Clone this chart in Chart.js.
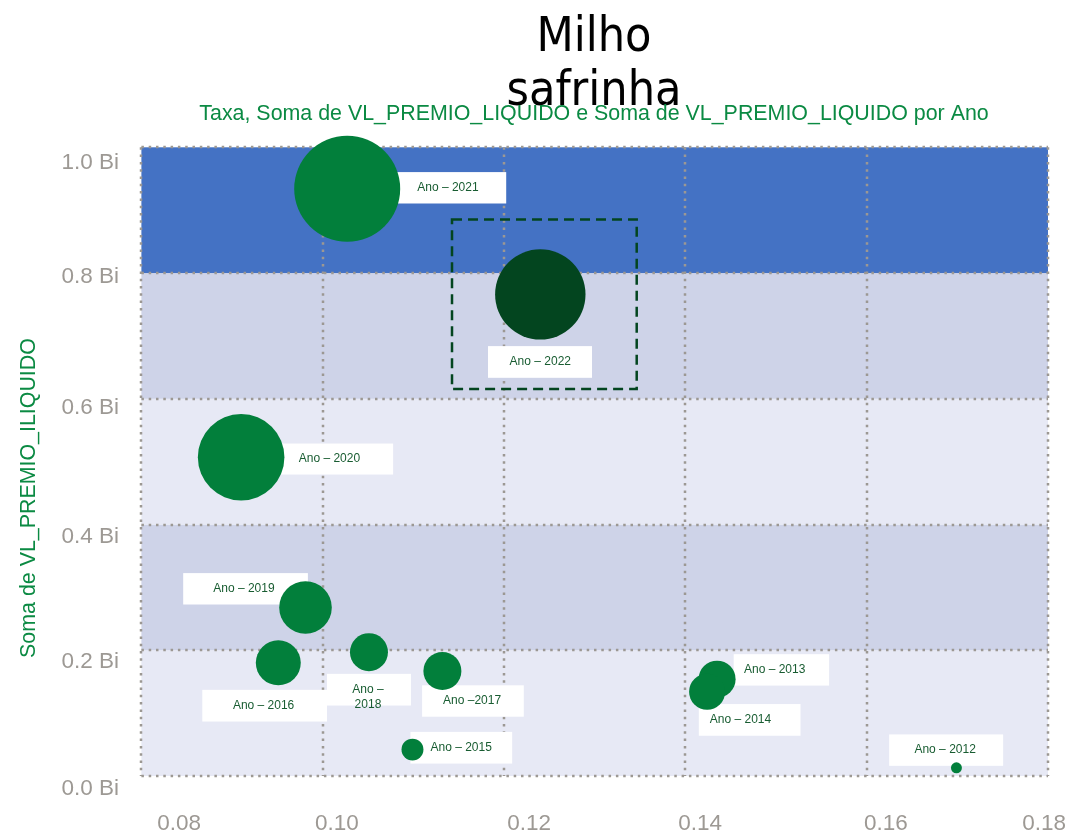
<!DOCTYPE html>
<html>
<head>
<meta charset="utf-8">
<script src="https://cdn.jsdelivr.net/npm/chart.js@4/dist/chart.umd.min.js"></script>
<style>
  html, body { margin: 0; padding: 0; background: #fff; }
  #wrap { width: 1070px; height: 835px; }
</style>
</head>
<body>
<div id="wrap"><canvas id="chart" width="1070" height="835"></canvas></div>
<script>
/* ---------- data ---------- */
const years   = [2012, 2013, 2014, 2015, 2016, 2017, 2018, 2019, 2020, 2021, 2022];
const taxa    = [0.1699, 0.1435, 0.1424, 0.1099, 0.0951, 0.1132, 0.1051, 0.0981, 0.0910, 0.1027, 0.1240];
const premio  = [0.013, 0.154, 0.134, 0.042, 0.180, 0.167, 0.197, 0.268, 0.507, 0.934, 0.766]; // Bi
const sizeVal = [0.010, 0.114, 0.108, 0.040, 0.168, 0.120, 0.120, 0.230, 0.623, 0.934, 0.679]; // Bi
const labels  = ['Ano – 2012', 'Ano – 2013', 'Ano – 2014', 'Ano – 2015', 'Ano – 2016', 'Ano –2017',
                 ['Ano –', '2018'], 'Ano – 2019', 'Ano – 2020', 'Ano – 2021', 'Ano – 2022'];
const xTicks  = [0.08, 0.10, 0.12, 0.14, 0.16, 0.18];
const yTicks  = [0, 0.2, 0.4, 0.6, 0.8, 1.0];
const yTickLabels = ['0.0 Bi', '0.2 Bi', '0.4 Bi', '0.6 Bi', '0.8 Bi', '1.0 Bi'];
const highlightYear = 2022;

/* ---------- look ---------- */
const GREEN = '#027f3b', DARK = '#03451f', TXT_GREEN = '#0b8a43', LBL = '#185c31', GREY = '#9d9994';
const bandColors = ['#e7e9f5', '#ced3e8', '#e7e9f5', '#ced3e8', '#4472c4'];
// label box offsets from bubble centre: [bx, by, bw, bh, tx, ty]
const labelBox = [
  [-67.3, -33.4, 114, 31.4, -11.3, -18],
  [16.6, -25, 95.4, 31.4, 57.6, -9.6],
  [-8.3, 12.3, 101.7, 31.7, 33.4, 28.3],
  [-2, -17.7, 101.7, 31.7, 48.7, -2],
  [-76, 27, 124.7, 31.7, -14.7, 42.7],
  [-20.3, 14.3, 101.7, 31.4, 29.7, 29.7],
  [-42, 21.7, 84, 31.7, -1, 37.4],
  [-122.3, -34.4, 124.7, 31.4, -61.6, -19],
  [25.3, -13.7, 126.7, 31, 88.3, 1.3],
  [45, -16.7, 114, 31.4, 100.7, -1.3],
  [-52.3, 51.7, 104, 31.7, 0, 67.4],
];
const xNudge = [37.8, 14.1, 25.2, 14.7, 19.2, -3.8];
const yNudge = [12.3, 11.4, 12.2, 9.5, 3.7, 15];
const R_SCALE = 54.84;

function dotted(ctx, x1, y1, x2, y2){
  ctx.beginPath(); ctx.moveTo(x1, y1); ctx.lineTo(x2, y2); ctx.stroke();
}

const decor = {
  id: 'decor',
  beforeDatasetsDraw(chart){
    const {ctx, chartArea:a, scales:{x, y}} = chart;
    ctx.save();
    // bands between y ticks
    for (let i = 0; i < yTicks.length - 1; i++){
      const top = y.getPixelForValue(yTicks[i+1]), bot = y.getPixelForValue(yTicks[i]);
      ctx.fillStyle = bandColors[i];
      ctx.fillRect(a.left, top, a.right - a.left, bot - top);
    }
    // dotted grid
    ctx.strokeStyle = '#9c9893'; ctx.lineWidth = 2.5; ctx.setLineDash([2.5, 4.8]);
    yTicks.forEach(v => { const p = Math.round(y.getPixelForValue(v)); dotted(ctx, a.left, p, a.right, p); });
    xTicks.forEach(v => { const p = Math.round(x.getPixelForValue(v)); dotted(ctx, p, a.top, p, a.bottom); });
    ctx.setLineDash([]);
    // label boxes + text
    ctx.font = '12px "Liberation Sans", Arial, sans-serif';
    ctx.textAlign = 'center'; ctx.textBaseline = 'middle';
    years.forEach((yr, i) => {
      const cx = x.getPixelForValue(taxa[i]), cy = y.getPixelForValue(premio[i]);
      const [bx, by, bw, bh, tx, ty] = labelBox[i];
      ctx.fillStyle = '#fff';
      ctx.fillRect(cx + bx, cy + by, bw, bh);
      ctx.fillStyle = LBL;
      const t = labels[i];
      if (Array.isArray(t)) t.forEach((s, k) => ctx.fillText(s, cx + tx, cy + ty + k * 15.6));
      else ctx.fillText(t, cx + tx, cy + ty);
    });
    ctx.restore();
  },
  afterDatasetsDraw(chart){
    const {ctx, scales:{x, y}} = chart;
    const i = years.indexOf(highlightYear);
    const cx = x.getPixelForValue(taxa[i]), cy = y.getPixelForValue(premio[i]);
    ctx.save();
    ctx.strokeStyle = DARK; ctx.lineWidth = 2.5; ctx.setLineDash([10, 6]);
    ctx.strokeRect(cx - 88.3, cy - 75, 184.7, 169.7);
    ctx.restore();
  },
  afterDraw(chart){
    const {ctx, scales:{x, y}} = chart;
    ctx.save();
    // tick labels
    ctx.fillStyle = GREY; ctx.font = '22.5px "Liberation Sans", Arial, sans-serif';
    ctx.textAlign = 'center'; ctx.textBaseline = 'alphabetic';
    xTicks.forEach((v, i) => ctx.fillText(v.toFixed(2), x.getPixelForValue(v) + xNudge[i], 830));
    ctx.textAlign = 'right'; ctx.textBaseline = 'middle';
    yTicks.forEach((v, i) => ctx.fillText(yTickLabels[i], 119, y.getPixelForValue(v) + yNudge[i]));
    // title
    ctx.fillStyle = '#000'; ctx.textAlign = 'center'; ctx.textBaseline = 'alphabetic';
    ctx.font = '48px "DejaVu Sans Condensed", "DejaVu Sans", sans-serif';
    ctx.fillText('Milho', 594, 51);
    ctx.fillText('safrinha', 594, 105);
    // subtitle
    ctx.fillStyle = TXT_GREEN; ctx.font = '21.4px "Liberation Sans", Arial, sans-serif';
    ctx.fillText('Taxa, Soma de VL_PREMIO_LIQUIDO e Soma de VL_PREMIO_LIQUIDO por Ano', 594, 120);
    // y axis title
    ctx.translate(29, 498); ctx.rotate(-Math.PI / 2);
    ctx.textBaseline = 'middle';
    ctx.fillText('Soma de VL_PREMIO_ILIQUIDO', 0, 0);
    ctx.restore();
  }
};

new Chart(document.getElementById('chart'), {
  type: 'bubble',
  data: {
    datasets: [{
      data: years.map((yr, i) => ({x: taxa[i], y: premio[i], r: Math.sqrt(sizeVal[i]) * R_SCALE})),
      backgroundColor: c => years[c.dataIndex] === highlightYear ? DARK : GREEN,
      borderWidth: 0,
      hoverBorderWidth: 0,
      clip: false
    }]
  },
  options: {
    responsive: false,
    animation: false,
    layout: { autoPadding: false, padding: { left: 141.4, top: 147.3, right: 22, bottom: 59 } },
    plugins: { legend: { display: false }, tooltip: { enabled: false } },
    scales: {
      x: { type: 'linear', min: 0.08, max: 0.18, display: false },
      y: { type: 'linear', min: 0, max: 1.0, display: false }
    }
  },
  plugins: [decor]
});
</script>
</body>
</html>
